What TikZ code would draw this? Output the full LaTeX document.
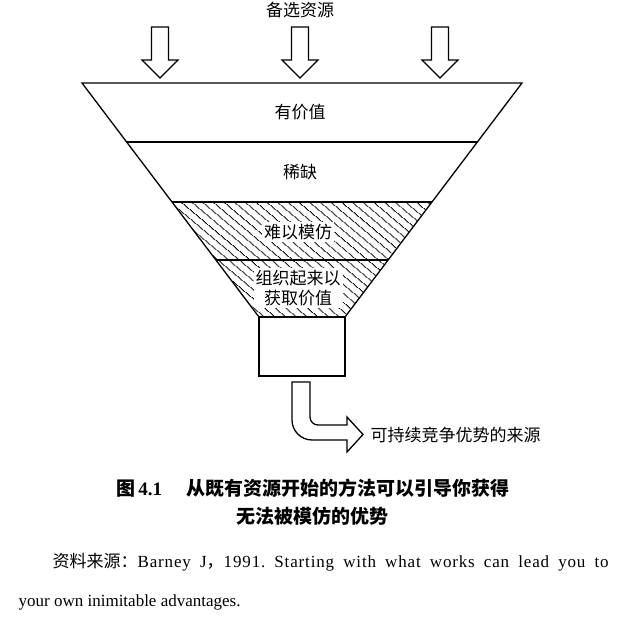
\documentclass[tikz,border=0pt]{standalone}
\usepackage{fontspec}
\setmainfont{Liberation Serif}
\newfontfamily\cjk{Noto Sans CJK SC}
\newfontfamily\widerm[LetterSpace=5]{Liberation Serif}
\usetikzlibrary{patterns.meta}

\begin{document}
\begin{tikzpicture}[x=1pt,y=-1pt,line width=1.3pt,
  lab/.style={font=\cjk\fontsize{17pt}{20pt}\selectfont,inner sep=2pt},
  hlab/.style={lab,fill=white,align=center},
  figcap/.style={font=\cjk\bfseries\fontsize{19pt}{23pt}\selectfont,inner sep=0pt},
  srcline/.style={font=\fontsize{17pt}{20pt}\selectfont\frenchspacing,anchor=west,inner sep=0pt}]

\useasboundingbox (0,0) rectangle (627,617);

\draw (300,10) node[lab] (src) {备选资源};
\foreach \cx in {160,300,440}
  \draw (\cx-8.5,27) -- (\cx+8.5,27) -- (\cx+8.5,60) -- (\cx+18,60) -- (\cx,78) -- (\cx-18,60) -- (\cx-8.5,60) -- cycle;

\path[pattern={Lines[angle=-40,distance=6.5pt,line width=1.1pt]}] (172,202) -- (432,202) -- (345,317) -- (259,317) -- cycle;
\draw (82,83) -- (522,83) -- (345,317) -- (259,317) -- cycle;
\draw (126.6,142) -- (477.4,142);
\draw (172,202) -- (432,202);
\draw (216,260) -- (388,260);
\draw (259,317) rectangle (345,376);

\draw (300,112) node[lab] (valuable) {有价值};
\draw (300,172) node[lab] (rare) {稀缺};
\draw (298,232) node[hlab] (inimitable) {难以模仿};
\draw (298,288) node[hlab] (organized) {组织起来以\\获取价值};

\draw (292,382) -- (292,420) .. controls (292,431) and (301,440) .. (312,440) -- (347,440) -- (347,452) -- (363,434.5) -- (347,417) -- (347,425) -- (318,425) .. controls (313.6,425) and (310,421.4) .. (310,417) -- (310,382) -- cycle;
\draw (368,435) node[lab,anchor=west] (advantage) {可持续竞争优势的来源};

\draw (313,488) node[figcap] (fig1) {图\,{\rmfamily 4.1}\hspace{1.3em}从既有资源开始的方法可以引导你获得};
\draw (312,516) node[figcap] (fig2) {无法被模仿的优势};

\draw (52,562) node[srcline] (cite1) {\makebox[556pt][s]{{\cjk 资料来源：}\widerm Barney J{\cjk ，}1991. Starting with what works can lead you to}};
\draw (18,602) node[srcline] (cite2) {your own inimitable advantages.};
\end{tikzpicture}
\end{document}
